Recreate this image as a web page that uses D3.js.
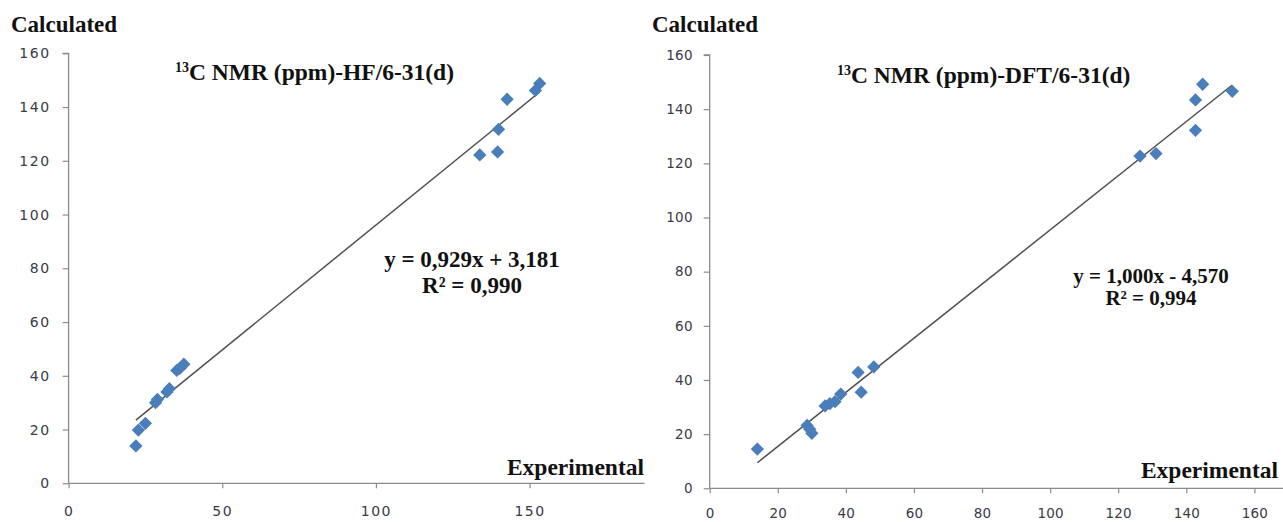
<!DOCTYPE html>
<html>
<head>
<meta charset="utf-8">
<script src="https://cdn.jsdelivr.net/npm/d3@7"></script>
<style>
  html, body { margin: 0; padding: 0; background: #fff; }
  svg { display: block; }
</style>
</head>
<body>
<svg id="chart" width="1283" height="522"></svg>
<script>
// ---------- data ----------
const hfExp  = [21.9, 22.7, 25.0, 28.3, 28.9, 32.0, 32.8, 35.2, 36.2, 37.5, 133.8, 139.6, 139.9, 142.7, 151.9, 153.3];
const hfCalc = [13.9, 19.8, 22.3, 30.0, 31.2, 34.0, 35.2, 42.0, 42.8, 44.3, 122.2, 123.3, 131.7, 142.9, 146.2, 148.8];
const dftExp  = [14.0, 28.6, 29.4, 30.0, 33.9, 35.3, 36.8, 38.5, 43.6, 44.5, 48.2, 126.4, 131.1, 142.7, 142.7, 144.8, 153.5];
const dftCalc = [14.5, 23.2, 21.8, 20.3, 30.4, 31.3, 32.0, 34.8, 42.8, 35.5, 44.8, 122.7, 123.6, 143.4, 132.2, 149.2, 146.6];
const fitSlope = [0.929, 1.000];
const fitIntercept = [3.181, -4.570];
const titleMain = ["C NMR (ppm)-HF/6-31(d)", "C NMR (ppm)-DFT/6-31(d)"];
const titleSup = "13";
const eqLines = [["y = 0,929x + 3,181", "R² = 0,990"], ["y = 1,000x - 4,570", "R² = 0,994"]];
const yTicks = [0, 20, 40, 60, 80, 100, 120, 140, 160];
const xTicksHF = [0, 50, 100, 150];
const xTicksDFT = [0, 20, 40, 60, 80, 100, 120, 140, 160];
const yLabel = "Calculated";
const xLabel = "Experimental";

const svg = d3.select("#chart");
const serif = "'Liberation Serif', 'Times New Roman', serif";

const panels = [
  { exp: hfExp, calc: hfCalc, xTicks: xTicksHF,
    xDomain: [0, 187.4], xRange: [68.6, 644.5], yRange: [483.3, 53.3],
    tickLS: 1.5, tickFS: 14, yPad: 12, xPad: 18,
    calcPos: [11, 31.5], expPos: [644, 475],
    titlePos: [175, 80], titleFS: 23.5, eqPos: [472, 267, 293], eqFS: 23, k: 0 },
  { exp: dftExp, calc: dftCalc, xTicks: xTicksDFT,
    xDomain: [0, 168.4], xRange: [709.7, 1283], yRange: [488.3, 55],
    tickLS: 0.2, tickFS: 13.5, yPad: 11, xPad: 15,
    calcPos: [652, 31.5], expPos: [1278, 478],
    titlePos: [837, 83], titleFS: 23.5, eqPos: [1151, 283, 305], eqFS: 21, k: 1 }
];

panels.forEach(p => {
  const x = d3.scaleLinear().domain(p.xDomain).range(p.xRange);
  const y = d3.scaleLinear().domain([0, 160]).range(p.yRange);
  const g = svg.append("g");

  // y axis
  const ya = g.append("g").attr("transform", `translate(${p.xRange[0]},0)`)
    .call(d3.axisLeft(y).tickValues(yTicks).tickSize(6).tickPadding(p.yPad).tickFormat(d3.format("d")));
  // x axis
  const xa = g.append("g").attr("transform", `translate(0,${p.yRange[0]})`)
    .call(d3.axisBottom(x).tickValues(p.xTicks).tickSize(5).tickPadding(p.xPad).tickFormat(d3.format("d")));
  [ya, xa].forEach(a => {
    a.select(".domain").attr("stroke", "#8c8c8c").attr("stroke-width", 1.3);
    a.selectAll(".tick line").attr("stroke", "#8c8c8c").attr("stroke-width", 1.2);
    a.selectAll(".tick text")
      .attr("fill", "#3a3a48")
      .style("font-family", "'DejaVu Sans', Verdana, sans-serif")
      .style("font-size", p.tickFS + "px")
      .style("letter-spacing", p.tickLS + "px");
  });
  ya.select(".domain").attr("d", `M0,${p.yRange[0]}V${p.yRange[1]}H-6`);
  xa.select(".domain").attr("d", `M${p.xRange[0]},0H${p.xRange[1]}`);

  // trend line
  const xmin = d3.min(p.exp), xmax = d3.max(p.exp);
  const sl = fitSlope[p.k], ic = fitIntercept[p.k];
  g.append("line")
    .attr("x1", x(xmin)).attr("y1", y(sl * xmin + ic))
    .attr("x2", x(xmax)).attr("y2", y(sl * xmax + ic))
    .attr("stroke", "#505050").attr("stroke-width", 1.5);

  // points
  const sym = d3.symbol().type(d3.symbolSquare).size(88);
  g.selectAll("path.pt").data(p.exp.map((e, i) => [e, p.calc[i]]))
    .join("path").attr("class", "pt")
    .attr("d", sym)
    .attr("transform", d => `translate(${x(d[0])},${y(d[1])}) rotate(45)`)
    .attr("fill", "#4a7ebb");

  // axis titles
  g.append("text").attr("x", p.calcPos[0]).attr("y", p.calcPos[1])
    .style("font-family", serif).style("font-weight", "bold").style("font-size", "23px")
    .attr("fill", "#111").text(yLabel);
  g.append("text").attr("x", p.expPos[0]).attr("y", p.expPos[1]).attr("text-anchor", "end")
    .style("font-family", serif).style("font-weight", "bold").style("font-size", "23.5px")
    .attr("fill", "#111").text(xLabel);

  // chart title
  const t = g.append("text").attr("x", p.titlePos[0]).attr("y", p.titlePos[1])
    .style("font-family", serif).style("font-weight", "bold").style("font-size", p.titleFS + "px").attr("fill", "#111");
  t.append("tspan").text(titleSup).style("font-size", "14px").attr("dy", -8);
  t.append("tspan").text(titleMain[p.k]).attr("dy", 8);

  // equation
  eqLines[p.k].forEach((line, i) => {
    g.append("text").attr("x", p.eqPos[0]).attr("y", p.eqPos[1 + i]).attr("text-anchor", "middle")
      .style("font-family", serif).style("font-weight", "bold").style("font-size", p.eqFS + "px")
      .attr("fill", "#111").text(line);
  });
});
</script>
</body>
</html>
